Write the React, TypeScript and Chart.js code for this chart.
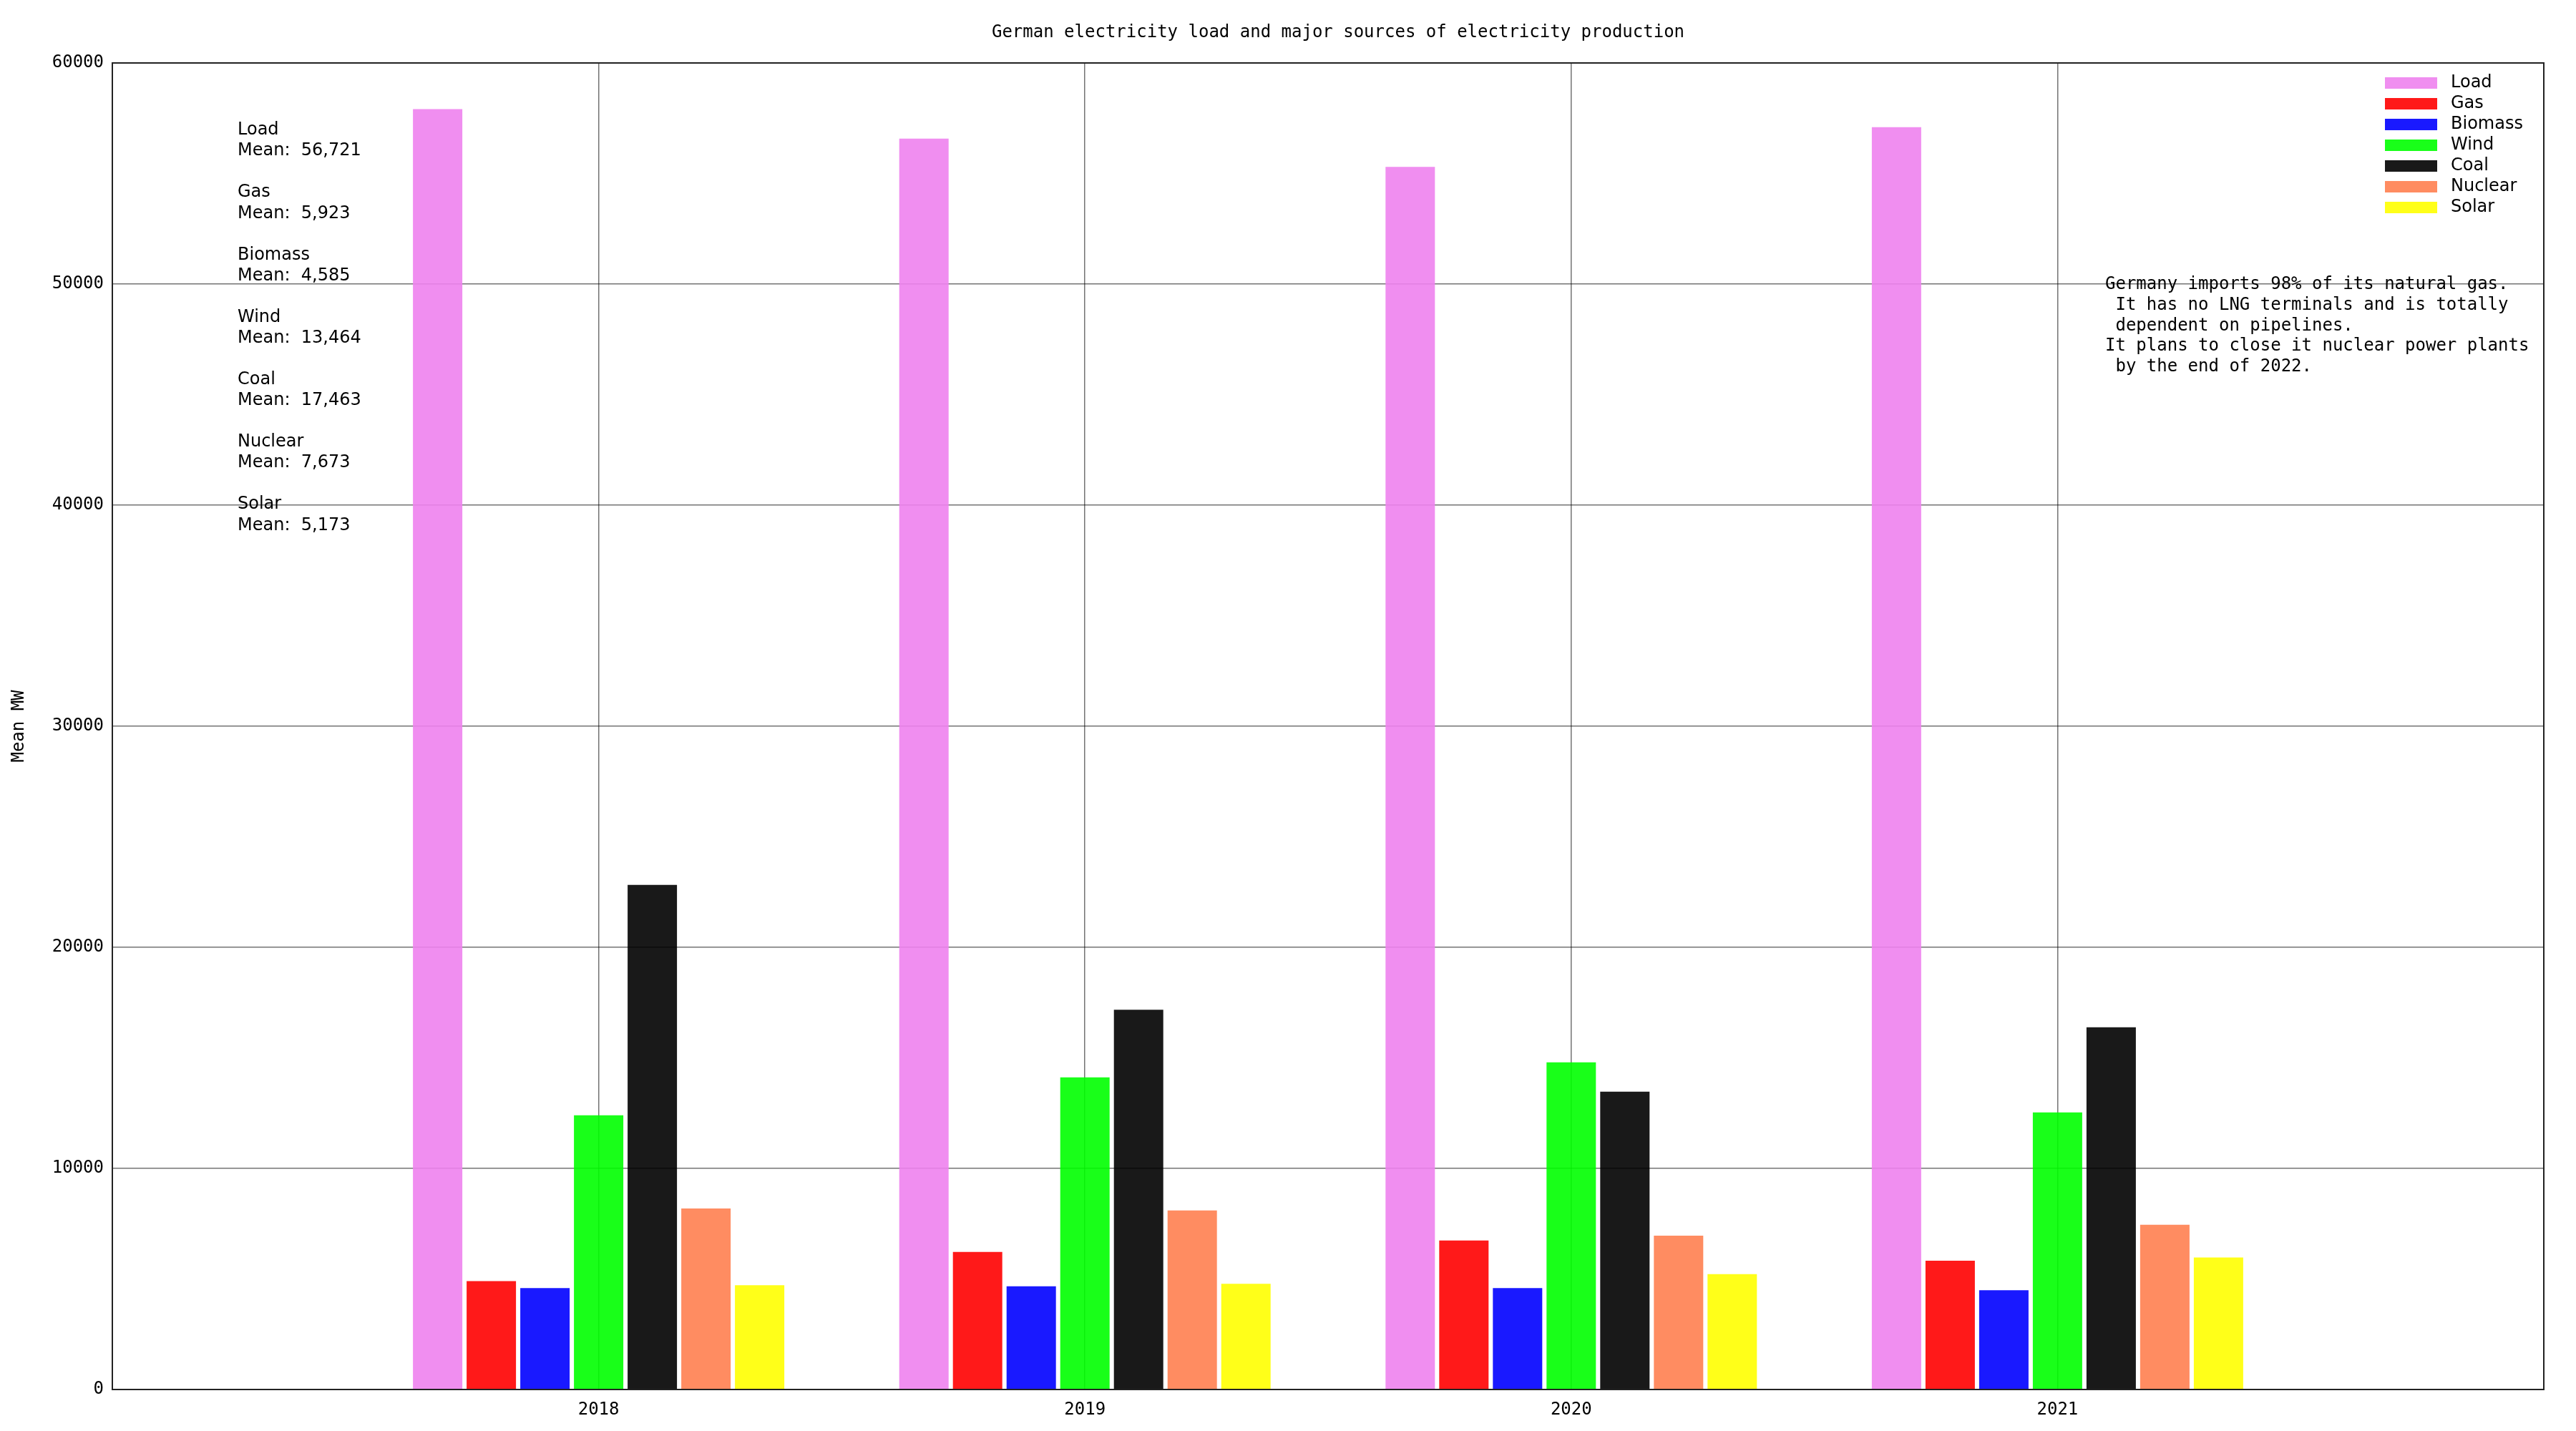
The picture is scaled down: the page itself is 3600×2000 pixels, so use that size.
import React, { useEffect, useRef } from 'react';
import { Chart, registerables } from 'chart.js';

Chart.register(...registerables);

const categories = ['2018', '2019', '2020', '2021'];
const seriesNames = ['Load', 'Gas', 'Biomass', 'Wind', 'Coal', 'Nuclear', 'Solar'];
const loadValues = [57910, 56580, 55300, 57095];
const gasValues = [4900, 6225, 6740, 5827];
const biomassValues = [4590, 4670, 4590, 4490];
const windValues = [12400, 14120, 14800, 12536];
const coalValues = [22820, 17180, 13470, 16382];
const nuclearValues = [8190, 8095, 6955, 7452];
const solarValues = [4720, 4780, 5220, 5972];
const meanValues = [56721, 5923, 4585, 13464, 17463, 7673, 5173];
const seriesColors = [
  'rgba(238,130,238,0.9)',
  'rgba(255,0,0,0.9)',
  'rgba(0,0,255,0.9)',
  'rgba(0,255,0,0.9)',
  'rgba(0,0,0,0.9)',
  'rgba(255,127,80,0.9)',
  'rgba(255,255,0,0.9)',
];
const titleText = 'German electricity load and major sources of electricity production';
const yAxisTitle = 'Mean MW';
const noteLines = [
  'Germany imports 98% of its natural gas.',
  ' It has no LNG terminals and is totally',
  ' dependent on pipelines.',
  'It plans to close it nuclear power plants',
  ' by the end of 2022.',
];

const MONO = '"DejaVu Sans Mono", monospace';
const SANS = '"DejaVu Sans", sans-serif';

const overlayPlugin = {
  id: 'overlay',
  afterDraw(chart: any) {
    const { ctx, chartArea } = chart;
    const { left, top, right, bottom } = chartArea;
    ctx.save();
    // frame (spines)
    ctx.strokeStyle = '#222222';
    ctx.lineWidth = 2;
    ctx.strokeRect(left, top, right - left, bottom - top);

    // title
    ctx.font = `24px ${MONO}`;
    ctx.fillStyle = '#000';
    ctx.textAlign = 'center';
    ctx.textBaseline = 'middle';
    ctx.fillText(titleText, (left + right) / 2 + 14, top - 42);

    // legend
    ctx.font = `24px ${SANS}`;
    ctx.textBaseline = 'middle';
    ctx.textAlign = 'left';
    chart.data.datasets.forEach((ds: any, i: number) => {
      const y = top + 28 + i * 29;
      ctx.fillStyle = ds.backgroundColor;
      ctx.fillRect(right - 222, y - 8, 73, 16);
      ctx.fillStyle = '#000';
      ctx.fillText(ds.label, right - 130, y);
    });

    // left mean text block
    ctx.font = `24px ${SANS}`;
    ctx.textBaseline = 'middle';
    const lines: string[] = [];
    seriesNames.forEach((n, i) => {
      if (i > 0) lines.push('');
      lines.push(n);
      lines.push('Mean:  ' + meanValues[i].toLocaleString('en-US'));
    });
    lines.forEach((t, i) => {
      ctx.fillText(t, left + 175, top + 94 + i * 29.07);
    });

    // note
    ctx.font = `24px ${MONO}`;
    ctx.textBaseline = 'middle';
    noteLines.forEach((t, i) => {
      ctx.fillText(t, left + 2785, top + 310 + i * 28.7);
    });
    ctx.restore();
  },
};

export default function App() {
  const ref = useRef<HTMLCanvasElement | null>(null);
  useEffect(() => {
    document.body.style.margin = '0';
    const values = [loadValues, gasValues, biomassValues, windValues, coalValues, nuclearValues, solarValues];
    const chart = new Chart(ref.current as HTMLCanvasElement, {
      type: 'bar',
      data: {
        datasets: seriesNames.map((name, s) => ({
          label: name,
          data: values[s].map((y, i) => ({ x: i, y })),
          backgroundColor: seriesColors[s],
          borderWidth: 0,
          categoryPercentage: 0.7725,
          barPercentage: 0.92,
        })),
      },
      options: {
        animation: false,
        responsive: false,
        devicePixelRatio: 1,
        layout: { padding: { left: 0, right: 45, top: 88, bottom: 0 } },
        plugins: {
          legend: { display: false },
          tooltip: { enabled: false },
          title: { display: false },
        },
        scales: {
          x: {
            type: 'linear',
            min: -1,
            max: 4,
            offset: false,
            z: 1,
            afterFit: (scale: any) => { scale.height = 58; },
            ticks: {
              stepSize: 1,
              autoSkip: false,
              maxRotation: 0,
              padding: 14,
              color: '#000',
              font: { family: MONO, size: 24 },
              callback: (v: any) => categories[v as number] ?? '',
            },
            grid: { color: 'rgba(0,0,0,0.55)', lineWidth: 1.5, drawTicks: false, offset: false },
            border: { display: false },
          },
          y: {
            min: 0,
            max: 60000,
            z: 1,
            afterFit: (scale: any) => { scale.width = 157; },
            ticks: {
              stepSize: 10000,
              padding: 12,
              color: '#000',
              font: { family: MONO, size: 24 },
              callback: (v: any) => String(v),
            },
            grid: { color: 'rgba(0,0,0,0.55)', lineWidth: 1.5, drawTicks: false },
            border: { display: false },
            title: {
              display: true,
              text: yAxisTitle,
              color: '#000',
              font: { family: MONO, size: 24, lineHeight: 1.2 },
              padding: { top: 12, bottom: 0 },
            },
          },
        },
      },
      plugins: [overlayPlugin],
    } as any);
    return () => chart.destroy();
  }, []);
  return <canvas ref={ref} width={3600} height={2000} style={{ display: 'block', width: 3600, height: 2000 }} />;
}
